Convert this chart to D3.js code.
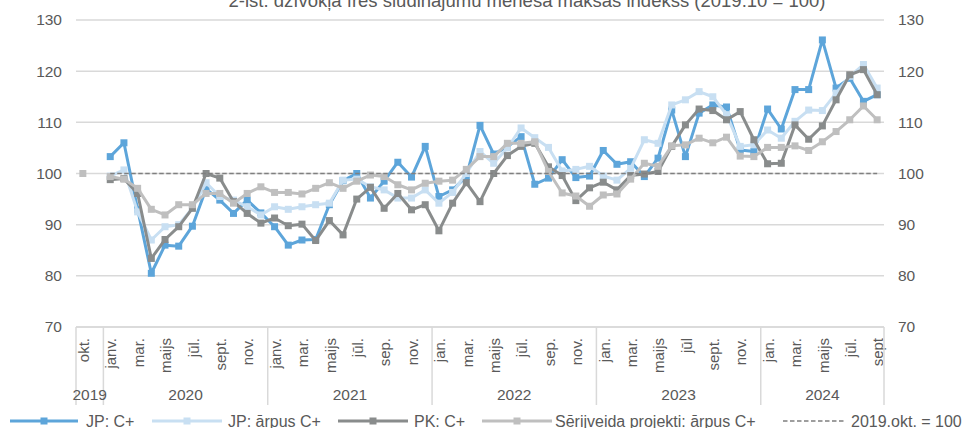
<!DOCTYPE html>
<html><head><meta charset="utf-8">
<script src="https://cdn.jsdelivr.net/npm/d3@7"></script>
<style>
html,body{margin:0;padding:0;background:#fff;overflow:hidden}
svg{display:block;font-family:"Liberation Sans",Arial,sans-serif}
</style></head>
<body><svg id="c" width="964" height="428"></svg>
<script>
const title = "2-ist. dzīvokļa īres sludinājumu mēneša maksas indekss (2019.10 = 100)";
const monthLabels = [
 "okt.","nov.",
 "janv.","febr.","mar.","apr.","maijs","jūn.","jūl.","aug.","sept.","okt.","nov.","dec.",
 "janv.","febr.","mar.","apr.","maijs","jūn.","jūl.","aug.","sep.","okt.","nov.","dec.",
 "jan.","feb.","mar.","apr.","maijs","jūn.","jūl.","aug.","sep.","okt.","nov.","dec.",
 "jan.","feb.","mar.","apr.","maijs","jūn.","jūl","aug.","sept.","okt.","nov.","dec.",
 "jan.","feb.","mar.","apr.","maijs","jūn.","jūl.","aug.","sept"];
const years = ["2019","2020","2021","2022","2023","2024"];
const yearMonths = [2,12,12,12,12,9];
const yTicks = [70,80,90,100,110,120,130];

const jpC = [null,null,
 103.3,106.0,93.0,80.5,86.0,85.8,89.7,97.0,94.8,92.2,94.8,92.3,
 89.6,86.0,87.0,87.1,93.9,98.6,100.0,95.2,98.5,102.2,99.3,105.3,
 95.5,96.8,99.4,109.4,103.8,105.2,107.2,97.9,99.1,102.7,99.2,99.5,
 104.5,101.8,102.3,99.4,103.0,112.4,103.3,111.8,113.4,113.0,104.6,104.3,
 112.6,108.7,116.4,116.4,126.1,116.7,118.6,114.1,115.4];
const jpOut = [null,null,
 99.5,100.7,92.5,87.0,89.6,90.0,93.2,98.2,95.5,94.8,93.5,91.9,
 93.5,93.0,93.5,93.9,94.2,98.7,98.9,97.4,96.8,95.2,95.2,96.8,
 94.2,96.3,100.0,104.3,102.0,105.0,108.9,107.0,105.1,100.5,100.8,101.4,
 99.5,98.7,101.0,106.6,105.9,113.4,114.4,116.0,115.0,111.5,105.3,105.6,
 108.5,106.9,110.2,112.4,112.3,115.7,119.0,121.3,116.7];
const pkC = [null,null,
 98.8,99.0,96.1,83.4,87.1,89.6,93.2,100.0,99.1,94.5,92.2,90.3,
 91.3,89.8,90.1,86.9,90.8,88.0,95.0,97.3,93.2,96.1,92.9,93.9,
 88.8,94.2,98.2,94.5,100.0,103.5,105.3,105.9,101.3,99.6,94.7,97.2,
 98.3,96.8,99.6,99.9,100.4,105.3,109.5,112.6,112.3,110.5,112.1,106.6,
 101.9,102.0,109.5,106.7,109.3,114.4,119.3,120.3,115.4];
const serOut = [100,null,
 99.4,98.9,97.1,93.0,91.9,93.9,93.9,96.1,96.1,94.2,96.1,97.4,
 96.3,96.3,96.0,97.1,98.2,97.1,98.5,99.7,99.4,97.8,96.8,98.1,
 98.5,98.7,100.8,103.3,103.3,105.9,105.9,106.2,100.4,96.2,95.6,93.6,
 95.8,96.0,98.9,102.0,101.4,105.4,105.6,106.9,106.0,107.1,103.4,103.3,
 105.1,105.1,105.4,104.5,106.2,108.2,110.5,113.2,110.5];
const baseLine = monthLabels.map((d,i)=> i>=2 ? 100 : null);

const seriesNames = ["JP: C+","JP: ārpus C+","PK: C+","Sērijveida projekti: ārpus C+","2019.okt. = 100"];
const seriesData = [jpC, jpOut, pkC, serOut, baseLine];
const seriesColors = ["#5DA5DA","#C8DFF2","#898C8C","#BFBFBF","#7F7F7F"];

const svg = d3.select("#c");
const pL = 76, pR = 884, pT = 20, pB = 327;
const x = d3.scaleBand().domain(d3.range(monthLabels.length)).range([pL, pR]).padding(0);
const y = d3.scaleLinear().domain([70,130]).range([pB, pT]);
const txt = "#595959";

// gridlines
svg.append("g").selectAll("line").data(yTicks).join("line")
  .attr("x1", pL).attr("x2", pR)
  .attr("y1", d=>y(d)).attr("y2", d=>y(d))
  .attr("stroke", "#D9D9D9").attr("stroke-width", 1.5);

// y axes
const yl = svg.append("g").attr("transform",`translate(${pL-14},0)`)
  .call(d3.axisLeft(y).tickValues(yTicks).tickSize(0).tickPadding(0));
const yr = svg.append("g").attr("transform",`translate(${pR+14},0)`)
  .call(d3.axisRight(y).tickValues(yTicks).tickSize(0).tickPadding(0));
[yl,yr].forEach(g=>{
  g.select(".domain").remove();
  g.selectAll("text").attr("font-size",15.5).attr("fill",txt).attr("font-family","Liberation Sans, Arial, sans-serif");
});

// x axis month labels
const xa = svg.append("g").attr("transform",`translate(0,${pB})`)
  .call(d3.axisBottom(x).tickSize(0).tickFormat(i=> i%2===0 ? monthLabels[i] : ""));
xa.select(".domain").remove();
xa.selectAll("text")
  .attr("font-size",15).attr("fill",txt).attr("font-family","Liberation Sans, Arial, sans-serif")
  .attr("transform","rotate(-90)")
  .attr("text-anchor","end")
  .attr("x",-11).attr("y",1).attr("dy","0.35em");

// year groups
let cum = 0;
const bounds = [0];
yearMonths.forEach(n=>{ cum += n; bounds.push(cum); });
const bx = i => i < monthLabels.length ? x(i) : pR;
svg.append("g").selectAll("line").data(bounds).join("line")
  .attr("x1", d=>bx(d)).attr("x2", d=>bx(d))
  .attr("y1", pB).attr("y2", 405)
  .attr("stroke","#D9D9D9").attr("stroke-width",1.5);
svg.append("g").selectAll("text").data(years).join("text")
  .attr("x",(d,i)=> (bx(bounds[i])+bx(bounds[i+1]))/2)
  .attr("y",395).attr("dy","0.35em")
  .attr("text-anchor","middle").attr("font-size",15.5).attr("fill",txt)
  .text(d=>d);

// x axis line
svg.append("line").attr("x1",pL).attr("x2",pR).attr("y1",pB).attr("y2",pB)
  .attr("stroke","#D9D9D9").attr("stroke-width",1.5);

// series
const cx = i => x(i) + x.bandwidth()/2;
seriesData.forEach((data,si)=>{
  const pts = data.map((v,i)=>({i,v}));
  const line = d3.line().defined(d=>d.v!==null).x(d=>cx(d.i)).y(d=>y(d.v));
  const dashed = si===4;
  svg.append("path").datum(pts).attr("d",line).attr("fill","none")
    .attr("stroke",seriesColors[si])
    .attr("stroke-width", dashed ? 1.6 : 3)
    .attr("stroke-linejoin","round")
    .attr("stroke-dasharray", dashed ? "4.5,2.5" : null);
  if(!dashed){
    svg.append("g").selectAll("rect").data(pts.filter(d=>d.v!==null)).join("rect")
      .attr("x",d=>cx(d.i)-3.5).attr("y",d=>y(d.v)-3.5)
      .attr("width",7).attr("height",7).attr("fill",seriesColors[si]);
  }
});

// title
svg.append("text").attr("x",527).attr("y",6.5).attr("text-anchor","middle")
  .attr("font-size",18.5).attr("fill",txt).text(title);

// legend
const legend = [
  {x1:10,x2:78,tx:86},
  {x1:152,x2:222,tx:228},
  {x1:338,x2:408,tx:414},
  {x1:482,x2:552,tx:555},
  {x1:783,x2:845,tx:851}
];
const ly = 421;
legend.forEach((l,i)=>{
  const g = svg.append("g");
  const dashed = i===4;
  g.append("line").attr("x1",l.x1).attr("x2",l.x2).attr("y1",ly).attr("y2",ly)
    .attr("stroke",seriesColors[i]).attr("stroke-width", dashed?1.6:3)
    .attr("stroke-dasharray", dashed ? "4.5,2.5" : null);
  if(!dashed){
    g.append("rect").attr("x",(l.x1+l.x2)/2-3.5).attr("y",ly-3.5).attr("width",7).attr("height",7)
      .attr("fill",seriesColors[i]);
  }
  g.append("text").attr("x",l.tx).attr("y",ly).attr("dy","0.35em")
    .attr("font-size",16).attr("fill",txt).text(seriesNames[i]);
});
</script></body></html>
